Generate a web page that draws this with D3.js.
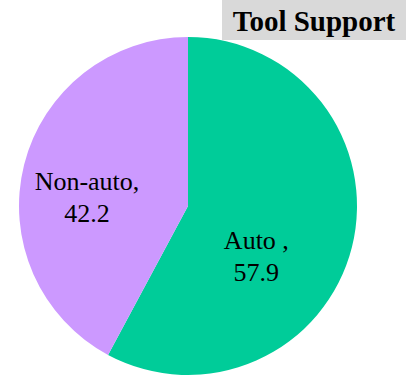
<!DOCTYPE html>
<html>
<head>
<meta charset="utf-8">
<script src="https://cdn.jsdelivr.net/npm/d3@7"></script>
<style>
  html, body { margin: 0; padding: 0; background: #ffffff; }
  svg { display: block; }
</style>
</head>
<body>
<div id="chart"></div>
<script>
// Share of tool support: automated vs. non-automated
const categories = ["Auto", "Non-auto"];
const values = [57.9, 42.2];
const labelNames = ["Auto ,", "Non-auto,"];
const colors = ["#00CC99", "#CC99FF"];
const title = "Tool Support";

const width = 414, height = 375;
const cx = 188, cy = 206, radius = 169;

const svg = d3.select("#chart").append("svg")
  .attr("width", width)
  .attr("height", height);

const pie = d3.pie().sort(null).value(d => d.value);
const data = categories.map((c, i) => ({ name: c, label: labelNames[i], value: values[i], color: colors[i] }));
const arcs = pie(data);

const arc = d3.arc().innerRadius(0).outerRadius(radius);

const g = svg.append("g").attr("transform", `translate(${cx},${cy})`);

g.selectAll("path.slice")
  .data(arcs)
  .join("path")
  .attr("class", "slice")
  .attr("d", arc)
  .attr("fill", d => d.data.color);

// Label placement: polar position (angle in degrees from 12 o'clock, radius fraction)
const labelLayout = {
  "Auto": { angle: 126, r: 0.50 },
  "Non-auto": { angle: 275, r: 0.60 }
};

const labels = g.selectAll("text.lbl")
  .data(arcs)
  .join("text")
  .attr("class", "lbl")
  .attr("text-anchor", "middle")
  .attr("font-family", "'Liberation Serif', 'Times New Roman', serif")
  .attr("font-size", 26)
  .attr("fill", "#000")
  .attr("transform", d => {
    const p = labelLayout[d.data.name];
    const a = p.angle * Math.PI / 180;
    const r = p.r * radius;
    return `translate(${r * Math.sin(a)},${-r * Math.cos(a)})`;
  });

labels.append("tspan")
  .attr("x", 0)
  .attr("y", -7)
  .text(d => d.data.label);
labels.append("tspan")
  .attr("x", 0)
  .attr("y", 25)
  .text(d => d3.format(".1f")(d.data.value));

// Title box
const tg = svg.append("g");
tg.append("rect")
  .attr("x", 222).attr("y", 0)
  .attr("width", 184).attr("height", 40)
  .attr("fill", "#D9D9D9");
tg.append("text")
  .attr("x", 314).attr("y", 31)
  .attr("text-anchor", "middle")
  .attr("font-family", "'Liberation Serif', 'Times New Roman', serif")
  .attr("font-weight", "bold")
  .attr("font-size", 29)
  .attr("fill", "#000")
  .text(title);
</script>
</body>
</html>
